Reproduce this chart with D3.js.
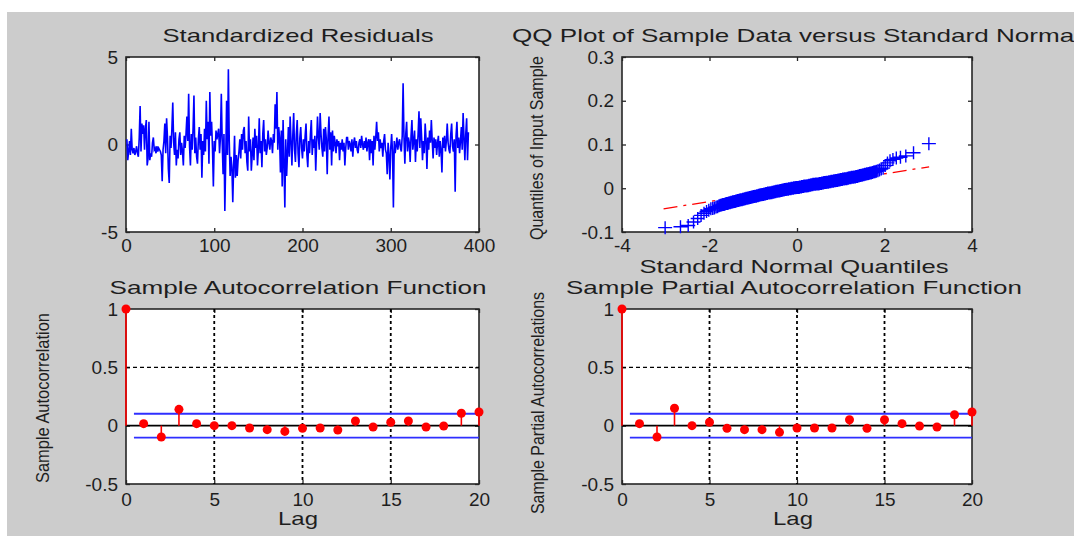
<!DOCTYPE html>
<html><head><meta charset="utf-8">
<script src="https://cdn.jsdelivr.net/npm/d3@7"></script>
<style>
html,body{margin:0;padding:0;background:#fff;}
svg{display:block;}
text{font-family:"Liberation Sans",Arial,sans-serif;fill:#1e1e1e;}
</style></head><body>
<svg id="c" width="1074" height="536"></svg>
<script>
// ---------------- DATA ----------------
const residuals = [
0.3,-0.9,-0.4,0.2,-0.6,0.9,-0.3,-0.5,-0.2,-0.6,-0.4,-0.1,-0.5,-0.7,0.4,2.2,-0.4,1.2,0.6,1.1,
-0.3,0.9,1.4,-1.2,-0.8,1.3,-0.9,-0.5,-0.7,0.1,0.4,-0.3,-0.2,-0.5,-0.1,-0.4,-0.2,-0.3,-0.4,-0.6,
-2.1,-0.3,0.2,1.2,-0.5,1.5,0.4,-1.4,-2.2,0.5,-0.2,0.9,2.4,0.1,-0.6,0.7,-1.2,-0.3,-0.8,0.3,
0.7,-0.6,0.1,-0.4,-1.2,0.5,-0.2,0.6,1.6,0.2,2.9,-0.1,-1.2,0.6,-0.3,0.9,2.8,-0.5,0.4,-0.7,
-1.1,0.3,1.0,-0.3,0.6,-1.9,0.2,-0.6,0.9,-0.4,2.5,0.3,1.3,-1.1,3.0,0.5,1.3,-0.2,-2.4,0.2,
-0.4,0.8,0.3,0.6,0.9,-0.5,0.4,2.9,0.2,-1.7,0.6,-3.8,-0.9,2.5,-0.6,4.3,0.2,-1.8,-0.7,-1.3,
-3.3,-1.2,0.5,-1.9,-0.6,-1.8,-0.9,-0.4,0.3,-0.8,0.6,-0.3,0.8,1.0,-0.5,0.2,-1.0,-1.5,1.6,-0.4,
0.3,-1.5,-0.6,0.4,-0.9,0.9,-0.2,0.5,-1.2,-0.3,1.5,-0.5,0.2,-1.3,0.6,1.4,-0.4,0.3,-0.6,-0.2,
0.8,0.1,-0.3,0.4,0.2,-0.5,0.6,0.1,2.3,0.9,3.0,-0.3,1.0,0.4,-1.6,0.8,-2.4,1.4,-1.1,-3.6,
0.3,-1.8,-0.5,1.0,-0.7,1.6,0.2,-1.2,0.5,1.8,-0.3,-1.0,0.6,1.4,-0.5,-1.3,0.4,1.0,-0.2,-0.8,
0.3,-0.4,0.5,1.2,-0.6,-1.3,0.2,-0.5,0.6,1.4,-0.6,0.3,-0.2,0.5,-1.5,0.1,1.6,0.4,-0.3,1.8,
0.6,-0.2,-0.7,0.9,-0.4,1.0,0.3,-1.7,0.5,1.6,-0.3,0.7,-1.2,0.8,-0.4,0.5,0.1,-0.5,0.3,-0.1,
0.2,-0.9,0.1,-0.3,0.3,-0.4,0.1,-1.2,-0.2,0.4,0.4,-0.3,0.2,0.0,-0.4,0.3,-0.7,0.1,0.4,-0.2,
0.2,-0.3,-0.5,0.1,0.3,-0.2,0.5,0.0,-0.3,0.2,-0.2,0.4,-0.4,0.1,0.3,-0.9,0.3,-0.5,0.2,-1.2,
0.5,-0.3,0.4,1.3,0.2,0.7,-0.4,0.3,-0.2,0.1,-0.7,0.2,0.6,-0.3,-0.5,-1.7,0.1,-0.6,-2.0,-0.2,
0.6,-0.4,-3.6,0.2,-0.5,-0.1,0.4,-0.3,0.1,0.3,-0.2,-0.4,0.5,3.5,0.4,-1.1,0.6,1.3,-0.4,0.4,
0.1,-1.0,0.5,1.4,-0.3,0.2,0.8,-1.0,0.3,-0.4,0.6,1.9,-0.2,1.5,0.4,-0.9,0.2,-0.5,1.2,0.3,
-1.4,0.4,-0.3,0.8,0.1,1.4,0.2,-0.8,0.4,-0.2,0.3,-0.6,0.1,0.5,-0.7,0.2,-0.3,-1.6,0.4,-0.2,
0.5,-0.4,0.2,1.2,0.1,-0.3,-0.5,0.6,1.2,-0.1,-0.4,0.3,-2.7,0.5,1.3,-0.2,0.4,-0.5,0.2,1.0,
-0.3,1.8,0.4,-0.9,0.6,1.5,-0.9,0.7
];

// sorted sample quantiles (QQ plot, y values)
const qqSample = [
-0.090,-0.088,-0.085,-0.077,-0.069,-0.062,-0.057,-0.053,-0.050,-0.047,
-0.046,-0.045,-0.043,-0.042,-0.040,-0.039,-0.038,-0.037,-0.037,-0.036,
-0.035,-0.035,-0.034,-0.033,-0.033,-0.032,-0.032,-0.031,-0.031,-0.030,
-0.030,-0.029,-0.029,-0.028,-0.028,-0.028,-0.027,-0.027,-0.026,-0.026,
-0.026,-0.025,-0.025,-0.025,-0.024,-0.024,-0.024,-0.023,-0.023,-0.023,
-0.022,-0.022,-0.022,-0.021,-0.021,-0.021,-0.021,-0.020,-0.020,-0.020,
-0.020,-0.019,-0.019,-0.019,-0.019,-0.018,-0.018,-0.018,-0.018,-0.017,
-0.017,-0.017,-0.017,-0.016,-0.016,-0.016,-0.016,-0.015,-0.015,-0.015,
-0.015,-0.015,-0.014,-0.014,-0.014,-0.014,-0.014,-0.013,-0.013,-0.013,
-0.013,-0.013,-0.012,-0.012,-0.012,-0.012,-0.012,-0.011,-0.011,-0.011,
-0.011,-0.011,-0.011,-0.011,-0.010,-0.010,-0.010,-0.010,-0.010,-0.010,
-0.009,-0.009,-0.009,-0.009,-0.009,-0.009,-0.008,-0.008,-0.008,-0.008,
-0.008,-0.008,-0.007,-0.007,-0.007,-0.007,-0.007,-0.007,-0.006,-0.006,
-0.006,-0.006,-0.006,-0.006,-0.006,-0.005,-0.005,-0.005,-0.005,-0.005,
-0.005,-0.005,-0.004,-0.004,-0.004,-0.004,-0.004,-0.004,-0.004,-0.003,
-0.003,-0.003,-0.003,-0.003,-0.003,-0.003,-0.002,-0.002,-0.002,-0.002,
-0.002,-0.002,-0.002,-0.002,-0.001,-0.001,-0.001,-0.001,-0.001,-0.001,
-0.001,-0.001,-0.001,0.000,0.000,0.000,0.000,0.000,0.000,0.000,
0.000,0.000,0.001,0.001,0.001,0.001,0.001,0.001,0.001,0.001,0.002,0.002,0.002,0.002,
0.002,0.002,0.002,0.002,0.002,0.002,0.002,0.002,0.003,0.003,0.003,0.003,0.003,0.003,
0.003,0.003,0.004,0.004,0.004,0.004,0.004,0.004,0.004,0.004,
0.005,0.005,0.005,0.005,0.005,0.005,0.005,0.005,0.005,0.005,
0.005,0.006,0.006,0.006,0.006,0.006,0.006,0.007,0.007,0.007,
0.007,0.007,0.007,0.007,0.008,0.008,0.008,0.008,0.008,0.008,
0.008,0.009,0.009,0.009,0.009,0.009,0.009,0.009,0.009,0.009,
0.010,0.010,0.010,0.010,0.010,0.010,0.010,0.010,0.010,0.010,
0.010,0.011,0.011,0.011,0.011,0.011,0.011,0.011,0.011,0.012,
0.012,0.012,0.012,0.012,0.012,0.013,0.013,0.013,0.013,0.013,
0.013,0.013,0.014,0.014,0.014,0.014,0.014,0.014,0.014,0.015,
0.015,0.015,0.015,0.015,0.015,0.016,0.016,0.016,0.016,0.016,
0.016,0.016,0.017,0.017,0.017,0.017,0.017,0.018,0.018,0.018,
0.018,0.018,0.019,0.019,0.019,0.019,0.019,0.020,0.020,0.020,
0.020,0.020,0.021,0.021,0.021,0.021,0.022,0.022,0.022,0.022,
0.022,0.023,0.023,0.023,0.024,0.024,0.024,0.024,0.025,0.025,
0.025,0.025,0.026,0.026,0.026,0.027,0.027,0.027,0.028,0.028,
0.029,0.029,0.030,0.030,0.031,0.031,0.032,0.032,0.033,0.033,
0.034,0.035,0.035,0.036,0.037,0.038,0.039,0.040,0.042,0.044,
0.046,0.052,0.058,0.063,0.066,0.069,0.071,0.074,0.081,0.102
];
// reference line end points [theoretical x, sample y]
const qqRefLine = [[-3.05, -0.047], [3.02, 0.049]];

const lags = [0,1,2,3,4,5,6,7,8,9,10,11,12,13,14,15,16,17,18,19,20];
const acfValues = [1,0.017,-0.097,0.14,0.017,0.0,0.0,-0.02,-0.034,-0.049,-0.023,-0.02,-0.037,0.04,-0.011,0.029,0.04,-0.011,-0.003,0.106,0.117];
const pacfValues = [1,0.017,-0.097,0.149,0.0,0.029,-0.023,-0.034,-0.034,-0.057,-0.02,-0.02,-0.02,0.051,-0.023,0.051,0.017,-0.003,-0.011,0.094,0.117];
const confBound = 0.102;

const residTicksX = [0,100,200,300,400];
const residTicksY = [-5,0,5];
const qqTicksX = [-4,-2,0,2,4];
const qqTicksY = [-0.1,0,0.1,0.2,0.3];
const corrTicksX = [0,5,10,15,20];
const corrTicksY = [-0.5,0,0.5,1];
const corrGridX = [5,10,15];
const corrGridY = [0.5];

// ---------------- DRAW ----------------
const svg = d3.select('#c');
svg.append('rect').attr('width',1074).attr('height',536).attr('fill','#fff');
svg.append('rect').attr('x',7).attr('y',12).attr('width',1067).attr('height',524).attr('fill','#cccccc');

const INK = '#262626';
const fmt = d => String(d);

function panel(x0,x1,y0,y1,xDom,yDom,xT,yT,xPad){
  const g = svg.append('g');
  const x = d3.scaleLinear().domain(xDom).range([x0,x1]);
  const y = d3.scaleLinear().domain(yDom).range([y1,y0]);
  g.append('rect').attr('x',x0).attr('y',y0).attr('width',x1-x0).attr('height',y1-y0).attr('fill','#fff');
  const axes = [
    g.append('g').attr('transform',`translate(0,${y1})`).call(d3.axisBottom(x).tickValues(xT).tickSize(-4).tickPadding(xPad).tickFormat(fmt)),
    g.append('g').attr('transform',`translate(0,${y0})`).call(d3.axisTop(x).tickValues(xT).tickSize(-4).tickFormat('')),
    g.append('g').attr('transform',`translate(${x0},0)`).call(d3.axisLeft(y).tickValues(yT).tickSize(-4).tickPadding(8).tickFormat(fmt)),
    g.append('g').attr('transform',`translate(${x1},0)`).call(d3.axisRight(y).tickValues(yT).tickSize(-4).tickFormat(''))
  ];
  axes.forEach(a=>{
    a.select('.domain').remove();
    a.selectAll('line').attr('stroke',INK).attr('stroke-width',1.3);
    a.selectAll('text').attr('font-size',19).attr('font-family','"Liberation Sans",Arial,sans-serif').attr('fill','#1e1e1e');
  });
  g.append('rect').attr('x',x0).attr('y',y0).attr('width',x1-x0).attr('height',y1-y0)
    .attr('fill','none').attr('stroke',INK).attr('stroke-width',1.6);
  return {g,x,y};
}

function label(txt,cx,cy,len,rot){
  const t = svg.append('text').text(txt).attr('font-size',19)
    .attr('text-anchor','middle').attr('textLength',len).attr('lengthAdjust','spacingAndGlyphs');
  if(rot){
    t.attr('dominant-baseline','central').attr('transform',`translate(${cx},${cy}) rotate(-90)`).attr('font-size',19);
  } else {
    t.attr('x',cx).attr('y',cy);
  }
  return t;
}

// Panel 1: standardized residuals
{
  const p = panel(126,479,57,232,[0,400],[-5,5],residTicksX,residTicksY,7);
  p.g.append('path').datum(residuals)
    .attr('d', d3.line().x((d,i)=>p.x(i+1)).y(d=>p.y(d)))
    .attr('fill','none').attr('stroke','#0000ff').attr('stroke-width',1.6).attr('stroke-linejoin','miter');
  label('Standardized Residuals',298,42,271);
}

// inverse normal CDF (Acklam)
function norminv(p){
  const a=[-3.969683028665376e+01,2.209460984245205e+02,-2.759285104469687e+02,1.383577518672690e+02,-3.066479806614716e+01,2.506628277459239e+00];
  const b=[-5.447609879822406e+01,1.615858368580409e+02,-1.556989798598866e+02,6.680131188771972e+01,-1.328068155288572e+01];
  const c=[-7.784894002430293e-03,-3.223964580411365e-01,-2.400758277161838e+00,-2.549732539343734e+00,4.374664141464968e+00,2.938163982698783e+00];
  const d=[7.784695709041462e-03,3.224671290700398e-01,2.445134137142996e+00,3.754408661907416e+00];
  const pl=0.02425, ph=1-pl; let q,r;
  if(p<pl){q=Math.sqrt(-2*Math.log(p));return (((((c[0]*q+c[1])*q+c[2])*q+c[3])*q+c[4])*q+c[5])/((((d[0]*q+d[1])*q+d[2])*q+d[3])*q+1);}
  if(p<=ph){q=p-0.5;r=q*q;return (((((a[0]*r+a[1])*r+a[2])*r+a[3])*r+a[4])*r+a[5])*q/(((((b[0]*r+b[1])*r+b[2])*r+b[3])*r+b[4])*r+1);}
  q=Math.sqrt(-2*Math.log(1-p));return -(((((c[0]*q+c[1])*q+c[2])*q+c[3])*q+c[4])*q+c[5])/((((d[0]*q+d[1])*q+d[2])*q+d[3])*q+1);
}

// Panel 2: QQ plot
{
  const p = panel(622,972,57,232,[-4,4],[-0.1,0.3],qqTicksX,qqTicksY,7);
  p.g.append('path').datum(qqRefLine)
    .attr('d', d3.line().x(d=>p.x(d[0])).y(d=>p.y(d[1])))
    .attr('stroke','#ff0000').attr('stroke-width',1.3).attr('fill','none').attr('stroke-dasharray','14,6,3,6');
  const n = qqSample.length;
  const pts = qqSample.map((v,i)=>[norminv((i+0.5)/n), v]);
  p.g.append('path')
    .attr('d', pts.map(d=>{const cx=p.x(d[0]), cy=p.y(d[1]); return `M${cx-7},${cy}h14M${cx},${cy-6.5}v13`;}).join(''))
    .attr('stroke','#0000ff').attr('stroke-width',1.4).attr('fill','none');
  label('QQ Plot of Sample Data versus Standard Normal',796,42,568);
  label('Standard Normal Quantiles',794,273,309);
  label('Quantiles of Input Sample',536,148,184,true);
}

function corrPanel(x0,x1,vals,title,titleLen,ylab,ylabLen,ylabX,ylabCy,titleCx,lagCx){
  const p = panel(x0,x1,309,484,[0,20],[-0.5,1],corrTicksX,corrTicksY,9);
  const g = p.g;
  corrGridX.forEach(v=>g.append('line').attr('x1',p.x(v)).attr('x2',p.x(v)).attr('y1',p.y(1)).attr('y2',p.y(-0.5))
    .attr('stroke','#000').attr('stroke-width',1.8).attr('stroke-dasharray','3,3'));
  corrGridY.forEach(v=>g.append('line').attr('x1',p.x(0)).attr('x2',p.x(20)).attr('y1',p.y(v)).attr('y2',p.y(v))
    .attr('stroke','#000').attr('stroke-width',1.4).attr('stroke-dasharray','4,3'));
  g.append('line').attr('x1',p.x(0)).attr('x2',p.x(20)).attr('y1',p.y(0)).attr('y2',p.y(0)).attr('stroke','#000').attr('stroke-width',1.6);
  [confBound,-confBound].forEach(b=>g.append('line').attr('x1',p.x(0.45)).attr('x2',p.x(20)).attr('y1',p.y(b)).attr('y2',p.y(b))
    .attr('stroke','#2f2fff').attr('stroke-width',1.8));
  g.selectAll('line.stem').data(lags).enter().append('line').attr('class','stem')
    .attr('x1',d=>p.x(d)).attr('x2',d=>p.x(d)).attr('y1',p.y(0)).attr('y2',(d,i)=>p.y(vals[i]))
    .attr('stroke','#ff0000').attr('stroke-width',1.6);
  g.selectAll('circle').data(lags).enter().append('circle')
    .attr('cx',d=>p.x(d)).attr('cy',(d,i)=>p.y(vals[i])).attr('r',4.5).attr('fill','#ff0000');
  label(title,titleCx,294,titleLen);
  label('Lag',lagCx,525,40);
  label(ylab,ylabX,ylabCy,ylabLen,true);
}
corrPanel(126,479,acfValues,'Sample Autocorrelation Function',377,'Sample Autocorrelation',170,42,398,298,298);
corrPanel(622,972,pacfValues,'Sample Partial Autocorrelation Function',456,'Sample Partial Autocorrelations',222,537,403,794,793);
</script>
</body></html>
